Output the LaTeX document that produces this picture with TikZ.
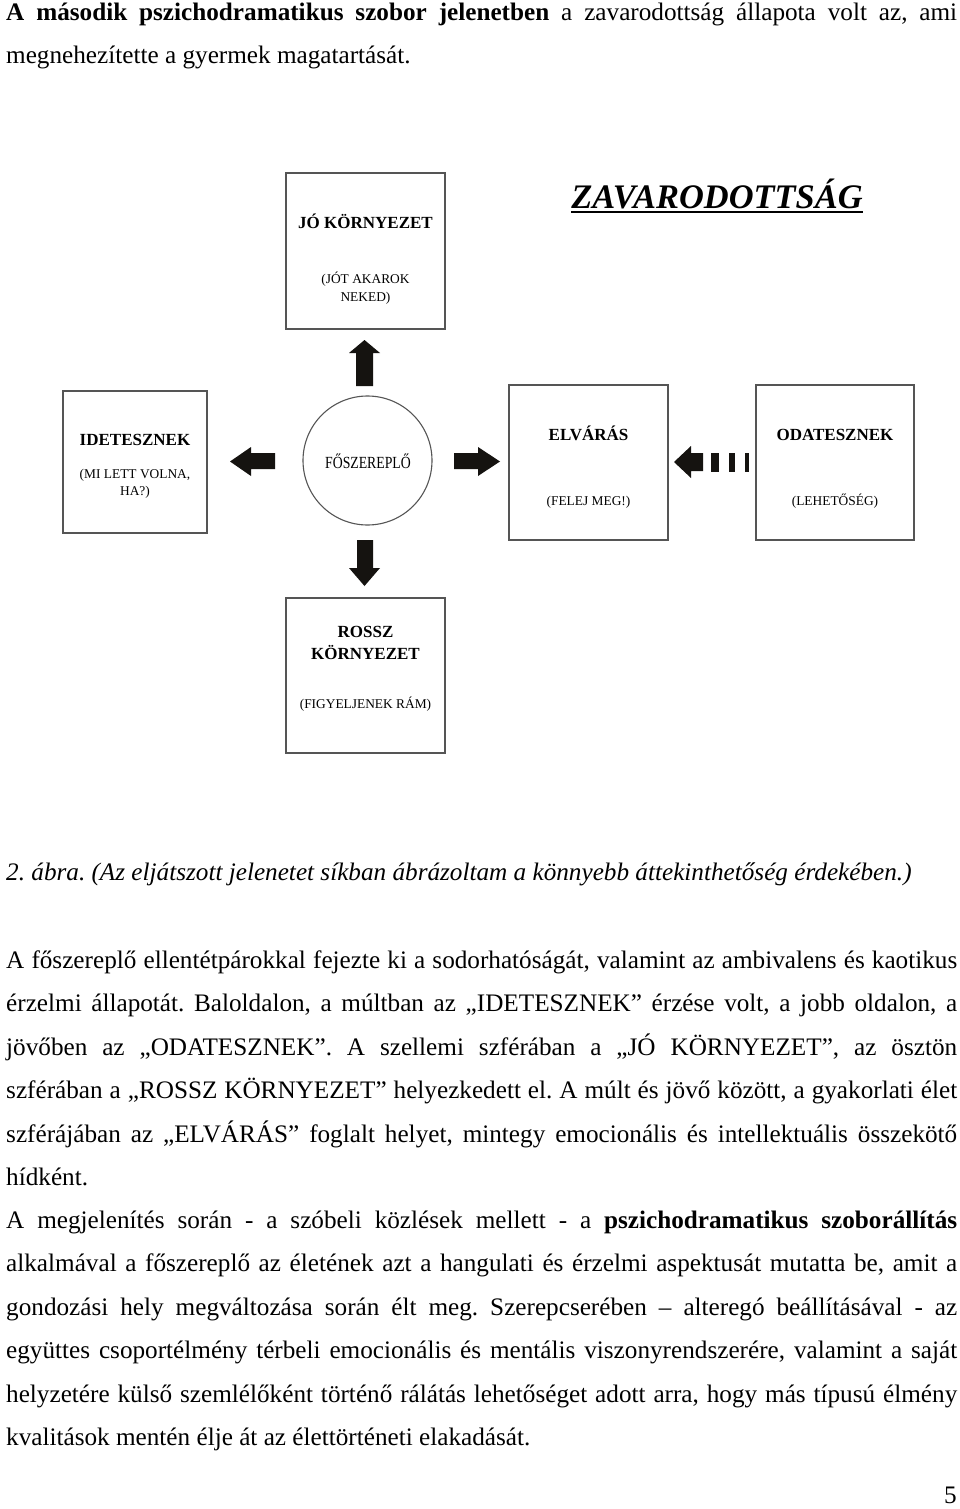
\documentclass[tikz,border=0pt]{standalone}
\usepackage{fontspec}
\setmainfont{Liberation Serif}
\usepackage{graphicx}
\frenchspacing
\definecolor{boxgray}{HTML}{555555}
\definecolor{arrowblack}{HTML}{151310}
\newcommand{\bodyfont}{\fontsize{25.2}{30}\selectfont}
\newcommand{\jline}[1]{\makebox[951pt][s]{#1}}
\tikzset{
  box/.style={draw=boxgray, line width=1.3pt, inner sep=0pt},
  blk/.style={fill=arrowblack},
  body/.style={anchor=base west, inner sep=0pt, font=\bodyfont},
  btitle/.style={anchor=base, inner sep=0pt, font=\fontsize{17}{20}\selectfont\bfseries},
  bsub/.style={anchor=base, inner sep=0pt, font=\fontsize{13.4}{16}\selectfont},
}
\begin{document}
\begin{tikzpicture}[x=1pt,y=-1pt]
\useasboundingbox[fill=white] (0,0) rectangle (960,1509);

% top paragraph
\node[body] (t1) at (6,21) {\jline{\textbf{A második pszichodramatikus szobor jelenetben} a zavarodottság állapota volt az, ami}};
\node[body] (t2) at (6,63.5) {megnehezítette a gyermek magatartását.};

% title
\node[anchor=base, inner sep=0pt, font=\fontsize{34.4}{40}\selectfont\bfseries\itshape] (zav) at (717,208) {ZAVARODOTTSÁG};
\draw[line width=2pt] (zav.base west) ++(0,4) -- ([yshift=-4pt]zav.base east);

% boxes
\node[box, minimum width=159pt, minimum height=156pt] (jo) at (365.5,251) {};
\node[box, minimum width=144pt, minimum height=142pt] (ide) at (135,462) {};
\node[box, minimum width=159pt, minimum height=155pt] (elv) at (588.5,462.5) {};
\node[box, minimum width=158pt, minimum height=155pt] (oda) at (835,462.5) {};
\node[box, minimum width=159pt, minimum height=155pt] (rossz) at (365.5,675.5) {};
\node[draw=boxgray, line width=1.1pt, circle, minimum size=129pt, inner sep=0pt] (fo) at (367.5,460.5) {};

% box texts
\node[btitle] (joT) at (365.5,228) {JÓ KÖRNYEZET};
\node[bsub] (joS1) at (365.5,283) {(JÓT AKAROK};
\node[bsub] (joS2) at (365.5,301) {NEKED)};
\node[btitle] (ideT) at (135,445) {IDETESZNEK};
\node[bsub] (ideS1) at (135,478) {(MI LETT VOLNA,};
\node[bsub] (ideS2) at (135,495) {HA?)};
\node[btitle] (elvT) at (588.5,440) {ELVÁRÁS};
\node[bsub] (elvS) at (588.5,505) {(FELEJ MEG!)};
\node[btitle] (odaT) at (835,440) {ODATESZNEK};
\node[bsub] (odaS) at (835,505) {(LEHETŐSÉG)};
\node[btitle] (roT1) at (365.5,637) {ROSSZ};
\node[btitle] (roT2) at (365.5,659) {KÖRNYEZET};
\node[bsub] (roS) at (365.5,708) {(FIGYELJENEK RÁM)};
\node[anchor=base, inner sep=0pt, font=\fontsize{17}{20}\selectfont] (foT) at (368,468) {\scalebox{0.81}[1]{FŐSZEREPLŐ}};

% block arrows
% up
\fill[blk] (356,386) -- (356,353) -- (349,353) -- (364.5,340) -- (380,353) -- (373,353) -- (373,386) -- cycle;
% down
\fill[blk] (357,540) -- (373,540) -- (373,568) -- (380,568) -- (364.5,586) -- (349,568) -- (357,568) -- cycle;
% left
\fill[blk] (275,453) -- (251,453) -- (251,447) -- (230,461.5) -- (251,476) -- (251,469) -- (275,469) -- cycle;
% right
\fill[blk] (454,453) -- (478,453) -- (478,447) -- (500,461.5) -- (478,476) -- (478,469) -- (454,469) -- cycle;
% dashed left arrow
\fill[blk] (703,453) -- (691,453) -- (691,446) -- (674,462) -- (691,478) -- (691,471) -- (703,471) -- cycle;
\fill[blk] (711,453) rectangle (719,472);
\fill[blk] (729,453) rectangle (735,472);
\fill[blk] (745,453) rectangle (748.5,472);

% caption
\node[body, font=\bodyfont\itshape] (cap) at (6,880) {2. ábra. (Az eljátszott jelenetet síkban ábrázoltam a könnyebb áttekinthetőség érdekében.)};

% paragraph 1
\node[body] (p1) at (6,968) {\jline{A főszereplő ellentétpárokkal fejezte ki a sodorhatóságát, valamint az ambivalens és kaotikus}};
\node[body] (p2) at (6,1011.5) {\jline{érzelmi állapotát. Baloldalon, a múltban az „IDETESZNEK” érzése volt, a jobb oldalon, a}};
\node[body] (p3) at (6,1055) {\jline{jövőben az „ODATESZNEK”. A szellemi szférában a „JÓ KÖRNYEZET”, az ösztön}};
\node[body] (p4) at (6,1098.5) {\jline{szférában a „ROSSZ KÖRNYEZET” helyezkedett el. A múlt és jövő között, a gyakorlati élet}};
\node[body] (p5) at (6,1142) {\jline{szférájában az „ELVÁRÁS” foglalt helyet, mintegy emocionális és intellektuális összekötő}};
\node[body] (p6) at (6,1185.5) {hídként.};

% paragraph 2
\node[body] (q1) at (6,1228) {\jline{A megjelenítés során - a szóbeli közlések mellett - a \textbf{pszichodramatikus szoborállítás}}};
\node[body] (q2) at (6,1271.5) {\jline{alkalmával a főszereplő az életének azt a hangulati és érzelmi aspektusát mutatta be, amit a}};
\node[body] (q3) at (6,1315) {\jline{gondozási hely megváltozása során élt meg. Szerepcserében – alteregó beállításával - az}};
\node[body] (q4) at (6,1358.5) {\jline{együttes csoportélmény térbeli emocionális és mentális viszonyrendszerére, valamint a saját}};
\node[body] (q5) at (6,1402) {\jline{helyzetére külső szemlélőként történő rálátás lehetőséget adott arra, hogy más típusú élmény}};
\node[body] (q6) at (6,1445.5) {kvalitások mentén élje át az élettörténeti elakadását.};

% page number
\node[anchor=base east, inner sep=0pt, font=\bodyfont] (pg) at (957,1503) {5};
\end{tikzpicture}
\end{document}
